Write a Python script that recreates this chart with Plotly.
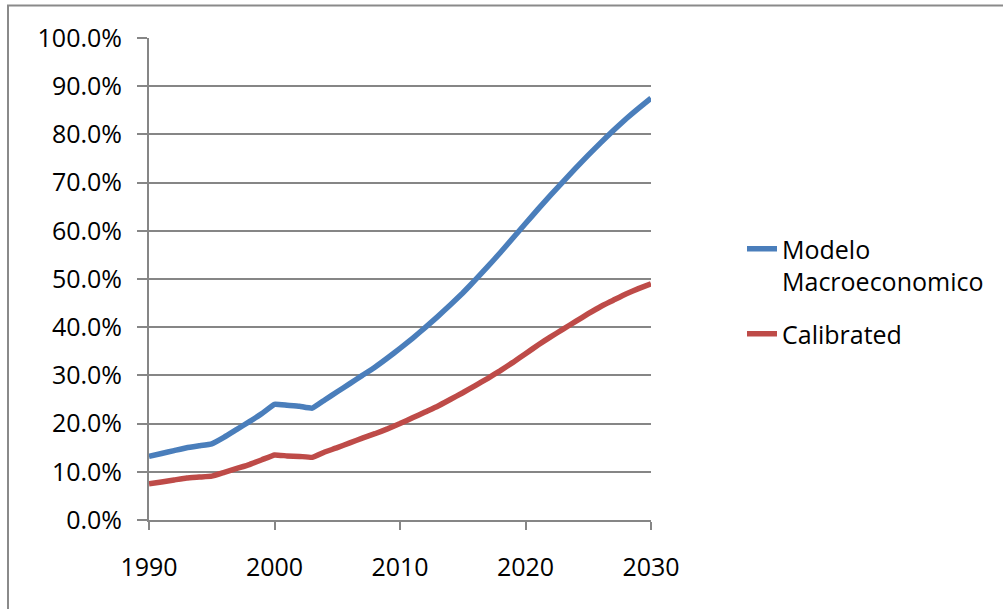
import plotly.graph_objects as go

years = list(range(1990, 2031))
modelo = [13.2, 13.8, 14.4, 15.0, 15.4, 15.8, 17.2, 18.8, 20.4, 22.1,
          24.0, 23.8, 23.6, 23.2, 24.9, 26.6, 28.3, 30.0, 31.7, 33.6,
          35.6, 37.7, 39.9, 42.2, 44.6, 47.1, 49.8, 52.6, 55.5, 58.5,
          61.5, 64.5, 67.4, 70.2, 73.0, 75.7, 78.3, 80.8, 83.2, 85.4, 87.5]
calibrated = [7.5, 7.9, 8.3, 8.7, 8.9, 9.1, 9.9, 10.7, 11.5, 12.5,
              13.5, 13.3, 13.2, 13.0, 14.1, 15.0, 16.0, 17.0, 17.9, 18.9,
              20.0, 21.2, 22.4, 23.6, 25.0, 26.4, 27.9, 29.4, 31.0, 32.7,
              34.5, 36.3, 38.0, 39.6, 41.2, 42.8, 44.3, 45.6, 46.9, 48.0, 49.0]
series_names = ["Modelo<br>Macroeconomico", "Calibrated"]
colors = ["#4A7EBB", "#BE4B48"]

FONT = "Open Sans"
FS = 25
fig = go.Figure()
for i, (name, vals, col) in enumerate(zip(series_names, [modelo, calibrated], colors)):
    fig.add_trace(go.Scatter(x=years, y=[v / 100 for v in vals], mode="lines",
                             name=name, legendgroup=f"g{i}",
                             line=dict(color=col, width=5.5, shape="spline", smoothing=0.3)))

W, H = 1003, 609
L, R, T, B = 149, 651, 38, 520
pw, ph = R - L, B - T

def px2paper_x(px):
    return (px - L) / pw

def px2paper_y(py):
    return (B - py) / ph

fig.update_layout(
    width=W, height=H,
    margin=dict(l=L, r=W - R, t=T, b=H - B, pad=0),
    paper_bgcolor="white", plot_bgcolor="white",
    font=dict(family=FONT, size=FS, color="black"),
    showlegend=True,
    legend=dict(x=px2paper_x(742), y=px2paper_y(226), xanchor="left", yanchor="top",
                valign="top", font=dict(family=FONT, size=FS, color="black"),
                bgcolor="rgba(0,0,0,0)", itemwidth=30, tracegroupgap=17),
    xaxis=dict(range=[1990, 2030], tickvals=[1990, 2000, 2010, 2020, 2030],
               showgrid=False, zeroline=False, showline=True, linecolor="#868686",
               linewidth=2, ticks="outside", ticklen=8, tickwidth=2, tickcolor="#868686",
               ticklabelstandoff=16, tickfont=dict(family=FONT, size=FS, color="black")),
    yaxis=dict(range=[0, 1], dtick=0.1, tick0=0, tickformat=".1%",
               showgrid=True, gridcolor="#868686", gridwidth=2, zeroline=False,
               showline=True, linecolor="#868686", linewidth=2,
               ticks="outside", ticklen=10, tickwidth=2, tickcolor="#868686",
               ticklabelstandoff=10, tickfont=dict(family=FONT, size=FS, color="black")),
    shapes=[dict(type="rect", xref="paper", yref="paper",
                 x0=px2paper_x(8), x1=px2paper_x(1020),
                 y0=px2paper_y(640), y1=px2paper_y(5.5),
                 line=dict(color="#8A8A8A", width=2), fillcolor="rgba(0,0,0,0)", layer="below")],
)

fig.write_html("out.html")
